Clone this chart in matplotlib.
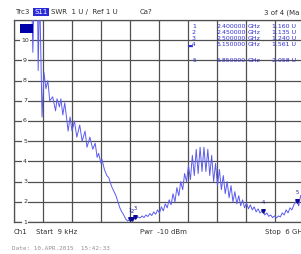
import matplotlib
matplotlib.use("Agg")
import matplotlib.pyplot as plt
from matplotlib.patches import Rectangle

# S11 SWR trace, frequency in GHz
freq = [0.009, 0.35, 0.39, 0.43, 0.48, 0.50, 0.53, 0.58, 0.62, 0.66, 0.70, 0.74,
        0.80, 0.86, 0.89, 0.94, 0.97, 1.01, 1.05, 1.09, 1.12, 1.16, 1.20, 1.25,
        1.30, 1.36, 1.41, 1.47, 1.51, 1.57, 1.63, 1.68, 1.72, 1.75, 1.80, 1.82,
        1.87, 1.92, 1.96, 2.00, 2.03, 2.07, 2.11, 2.15, 2.19, 2.23, 2.27, 2.31,
        2.35, 2.38, 2.40, 2.43, 2.45, 2.48, 2.50, 2.53, 2.57, 2.61, 2.65, 2.69,
        2.73, 2.77, 2.81, 2.85, 2.89, 2.93, 2.97, 3.01, 3.05, 3.09, 3.13, 3.17,
        3.21, 3.25, 3.29, 3.33, 3.37, 3.41, 3.45, 3.49, 3.53, 3.57, 3.61, 3.65,
        3.69, 3.73, 3.77, 3.81, 3.85, 3.89, 3.93, 3.97, 4.01, 4.05, 4.09, 4.13,
        4.17, 4.21, 4.25, 4.29, 4.33, 4.37, 4.41, 4.45, 4.49, 4.53, 4.57, 4.61,
        4.65, 4.69, 4.73, 4.77, 4.81, 4.85, 4.89, 4.93, 4.97, 5.01, 5.05, 5.09,
        5.15, 5.19, 5.23, 5.27, 5.31, 5.35, 5.39, 5.43, 5.47, 5.51, 5.55, 5.59,
        5.63, 5.67, 5.71, 5.75, 5.79, 5.85, 5.89, 5.93, 6.0]
swr = [14, 14, 9.4, 14, 14, 8.5, 12.5, 6.2, 8.4, 7.6, 8.0, 7.0,
       7.2, 6.5, 7.1, 6.7, 7.1, 6.3, 6.9, 6.1, 5.5, 6.2, 5.5, 6.0,
       5.2, 5.8, 5.0, 5.5, 4.7, 5.2, 4.6, 4.9, 4.2, 4.4, 3.9, 4.1,
       3.6, 3.3, 3.2, 2.9, 2.7, 2.5, 2.3, 2.0, 1.7, 1.5, 1.35, 1.15,
       1.05, 1.1, 1.16, 1.12, 1.135, 1.2, 1.24, 1.18, 1.25, 1.2, 1.3, 1.22,
       1.35, 1.27, 1.42, 1.32, 1.5, 1.38, 1.6, 1.45, 1.75, 1.55, 1.9, 1.7,
       2.1, 1.85, 2.4, 2.0, 2.7, 2.3, 3.0, 2.6, 3.4, 3.0, 3.8, 3.1,
       4.3, 3.3, 4.6, 3.4, 4.7, 3.5, 4.7, 3.5, 4.6, 3.3, 4.3, 3.0,
       3.9, 2.8, 3.6, 2.6, 3.3, 2.4, 3.0, 2.2, 2.8, 2.0, 2.5, 1.9,
       2.3, 1.8, 2.1, 1.7, 1.95, 1.65, 1.85, 1.6, 1.75, 1.5, 1.65, 1.45,
       1.561, 1.35, 1.45, 1.28, 1.35, 1.22, 1.3, 1.2, 1.3, 1.25, 1.45, 1.35,
       1.6, 1.45, 1.7, 1.6, 1.85, 2.058, 1.8, 2.3, 2.5]

mk_num = ["1", "2", "3", "4", "5"]
mk_freq = [2.40, 2.45, 2.50, 5.15, 5.85]
mk_swr = [1.160, 1.135, 1.240, 1.561, 2.058]
mk_rows = ["1", "2", "3", "\u25834", "5"]

W, H = 301, 254
fig = plt.figure(figsize=(W / 100, H / 100), dpi=100)
ax = fig.add_axes([14 / W, 32 / H, 290 / W, 202 / H])
ax.set_xlim(0, 6)
ax.set_ylim(1, 11)
ax.set_xticks([0.6 * i for i in range(11)])
ax.set_yticks(range(1, 12))
ax.tick_params(length=0, labelleft=False, labelbottom=False)
ax.grid(True, color="#505050", lw=0.9)
for s in ax.spines.values():
    s.set_color("#505050")
    s.set_linewidth(0.9)

ax.plot(freq, swr, color="#5b5bf0", lw=0.7, zorder=3)

# y labels inside the axes
for v in range(1, 11):
    ax.text(0.038, v, str(v), transform=ax.get_yaxis_transform(), ha="center",
            va="center", fontsize=4.5, color="#303030",
            bbox=dict(fc="white", ec="none", pad=0.6), zorder=4)

# markers
ax.plot(mk_freq, mk_swr, "v", color="#0a0a90", ms=2.6, zorder=5)
for n, f, s in zip(mk_num, mk_freq, mk_swr):
    ax.text(f, s + 0.28, n, ha="center", va="bottom", fontsize=3.5, color="#0a0a90", zorder=5)

# marker table
ty = [26, 32, 38, 44, 60]
for r, f, s, y in zip(mk_rows, mk_freq, mk_swr, ty):
    fy = 1 - y / H
    fig.text(196 / W, fy, r, ha="right", va="center", fontsize=4.5, color="#3030d0")
    fig.text(246 / W, fy, f"{f:.6f}", ha="right", va="center", fontsize=4.5, color="#3030d0")
    fig.text(248 / W, fy, "GHz", ha="left", va="center", fontsize=4.5, color="#3030d0")
    fig.text(272 / W, fy, f"{s:.3f} U", ha="left", va="center", fontsize=4.5, color="#3030d0")

# trace indicator block
fig.patches.append(Rectangle((20 / W, 1 - 33 / H), 13 / W, 9 / H, transform=fig.transFigure,
                             fc="#0000a8", ec="none", zorder=6))

# header
hy = 1 - 12 / H
fig.text(15 / W, hy, "Trc3", fontsize=5, color="#303030", va="center")
fig.text(41 / W, hy, "S11", fontsize=5, color="white", va="center", ha="center",
         bbox=dict(fc="#2a2ad8", ec="none", pad=0.8))
fig.text(51 / W, hy, "SWR  1 U /  Ref 1 U", fontsize=5, color="#303030", va="center")
fig.text(140 / W, hy, "Ca?", fontsize=5, color="#303030", va="center")
fig.text(264 / W, 1 - 13 / H, "3 of 4 (Ma", fontsize=5, color="#303030", va="center")

# footer
by = 1 - 232 / H
fig.text(14 / W, by, "Ch1", fontsize=5, color="#303030", va="center")
fig.text(36 / W, by, "Start  9 kHz", fontsize=5, color="#303030", va="center")
fig.text(140 / W, by, "Pwr  -10 dBm", fontsize=5, color="#303030", va="center")
fig.text(265 / W, by, "Stop  6 GHz", fontsize=5, color="#303030", va="center")
fig.text(12 / W, 1 - 249 / H, "Date: 10.APR.2015  15:42:33", fontsize=4.3,
         family="DejaVu Sans Mono", color="#909090", va="center")

fig.savefig("out.png", dpi=100)
